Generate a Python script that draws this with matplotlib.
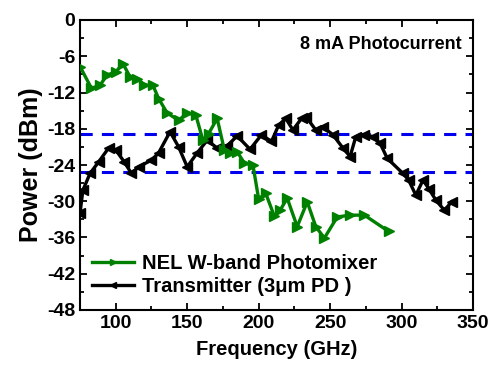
#!/usr/bin/env python3
import matplotlib

matplotlib.use("Agg")
import matplotlib.pyplot as plt
from matplotlib.ticker import MultipleLocator

plt.rcParams["font.family"] = ["Liberation Sans", "DejaVu Sans"]
plt.rcParams["font.weight"] = "bold"
plt.rcParams["axes.unicode_minus"] = False

# NEL W-band photomixer (green)
nel_freq = [75, 83, 89, 94, 100, 105, 110, 115, 120, 126, 130, 136, 144, 150, 156,
            161, 165, 171, 176, 180, 185, 190, 196, 200, 205, 211, 215, 220, 227, 234,
            240, 246, 255, 264, 274, 291]
nel_power = [-7.7, -11.3, -10.8, -9.1, -8.6, -7.2, -9.4, -9.7, -10.8, -10.8, -13.0, -15.4,
             -16.6, -15.4, -15.7, -19.9, -18.8, -16.3, -21.5, -22.0, -21.8, -23.7, -24.0,
             -29.6, -28.7, -32.5, -31.5, -29.5, -34.2, -30.1, -34.2, -36.1, -32.6, -32.3,
             -32.3, -35.0]

# Transmitter (3um PD) (black)
tx_freq = [75, 77, 82, 88, 95, 100, 106, 111, 116, 125, 130, 138, 144, 150, 157,
           164, 171, 178, 185, 194, 202, 209, 214, 219, 224, 230, 233, 240, 245, 252,
           259, 264, 268, 274, 280, 285, 290, 301, 305, 310, 315, 319, 324, 330, 335]
tx_power = [-32.0, -28.2, -25.4, -23.5, -21.2, -21.5, -23.5, -25.4, -24.3, -23.2, -22.0,
            -18.5, -21.0, -24.3, -22.0, -19.9, -21.2, -20.8, -19.2, -21.4, -19.0, -20.1,
            -17.4, -16.3, -18.2, -16.3, -16.0, -18.2, -17.7, -19.0, -21.2, -22.6, -19.3,
            -19.0, -19.3, -20.4, -22.9, -25.4, -26.5, -29.0, -26.5, -27.9, -29.8, -31.5,
            -30.1]

ref_levels = [-18.9, -25.2]


def main() -> int:
    fig = plt.figure(figsize=(4.92, 3.74), dpi=100)
    ax = fig.add_axes([80 / 492, 64 / 374, 393 / 492, 290 / 374])

    for level in ref_levels:
        ax.axhline(level, color="#0000ee", linestyle=(0, (4, 3)), linewidth=2.2, zorder=1)

    ax.plot(nel_freq, nel_power, color="#008000", linewidth=2.4, marker=">",
            markersize=7.5, label="NEL W-band Photomixer", zorder=3)
    ax.plot(tx_freq, tx_power, color="black", linewidth=2.4, marker="<",
            markersize=7.5, label="Transmitter (3\u03bcm PD )", zorder=2)

    ax.set_xlim(75, 350)
    ax.set_ylim(-48, 0)
    ax.xaxis.set_major_locator(MultipleLocator(50))
    ax.xaxis.set_minor_locator(MultipleLocator(25))
    ax.yaxis.set_major_locator(MultipleLocator(6))
    ax.yaxis.set_minor_locator(MultipleLocator(3))
    ax.tick_params(which="both", direction="in", top=True, right=True, width=1.3,
                   labelsize=14)
    ax.tick_params(which="major", length=5)
    ax.tick_params(which="minor", length=3)
    for spine in ax.spines.values():
        spine.set_linewidth(1.5)

    ax.set_xlabel("Frequency (GHz)", fontsize=14.5, fontweight="bold", labelpad=6)
    ax.set_ylabel("Power (dBm)", fontsize=18, fontweight="bold", labelpad=3)

    ax.text(0.97, 0.917, "8 mA Photocurrent", transform=ax.transAxes, ha="right",
            va="center", fontsize=13, fontweight="bold")

    ax.legend(loc="lower left", bbox_to_anchor=(0.0, 0.005), frameon=False,
              prop={"size": 14.5, "weight": "bold"}, handlelength=2.1,
              handletextpad=0.4, labelspacing=0.2, markerscale=0.6,
              borderaxespad=0.2)

    fig.savefig("out.png", dpi=100)
    plt.close(fig)
    return 0


if __name__ == "__main__":
    raise SystemExit(main())
